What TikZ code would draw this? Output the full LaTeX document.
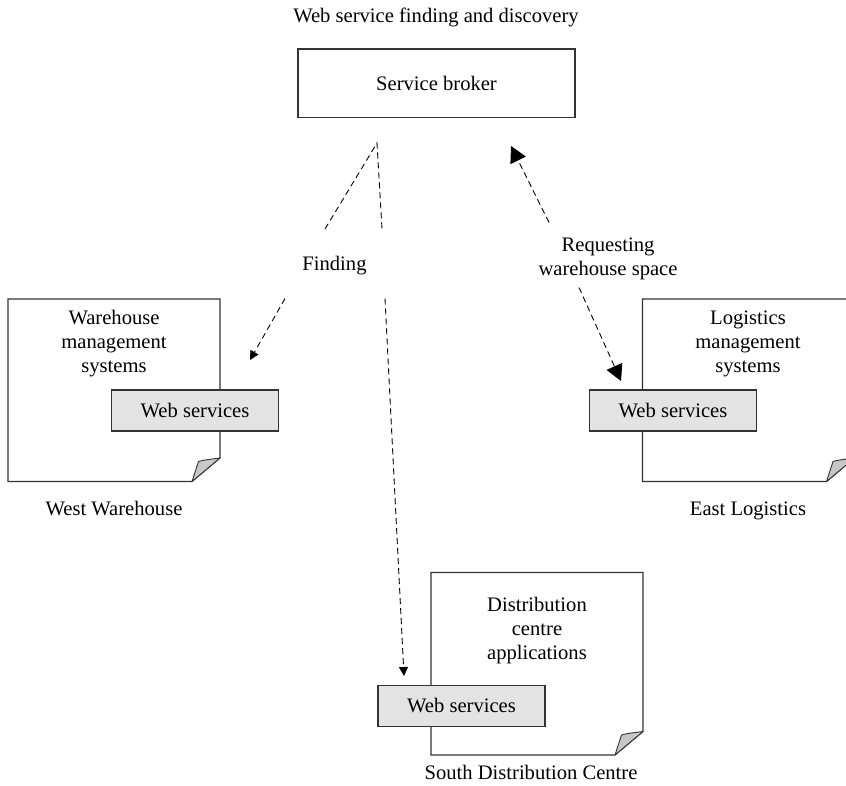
\documentclass[tikz,border=0pt]{standalone}
\usepackage{fontspec}
\setmainfont{Liberation Serif}
\usetikzlibrary{arrows.meta}

\tikzset{
  lbl/.style={font=\fontsize{20.6}{24}\selectfont, align=center, inner sep=0pt},
  edge line/.style={draw=black!80, line width=1.1pt},
  page/.style={edge line, fill=white},
  wsbox/.style={edge line, fill=black!11, minimum width=167pt, minimum height=41pt, lbl},
  brokerbox/.style={edge line, minimum width=277pt, minimum height=68.5pt, lbl},
  curl/.style={draw=black!80, line width=0.9pt, fill=black!22, line join=round},
  flow/.style={dash pattern=on 6pt off 4pt, line width=0.9pt},
  small tip/.style={-{Triangle[length=9pt,width=9pt]}},
  big tip/.style={-{Triangle[length=16pt,width=17pt]}},
  % a sheet of paper with a turned-up lower right corner, origin at its top left
  docpage/.pic={
    \draw[page] (0,0) -- (212,0) -- (212,159) -- (184,182.5) -- (0,182.5) -- cycle;
    \draw[curl] (184,182.5) -- (190.5,162.5)
      .. controls (197,160.5) and (205,160) .. (212,159) -- cycle;
  }
}

\begin{document}
\begin{tikzpicture}[x=1pt,y=-1pt]
\useasboundingbox (0,0) rectangle (846,785);
\clip (0,0) rectangle (846,785);
\fill[white] (0,0) rectangle (846,785);

% title and broker
\node[lbl] (title) at (436,17) {Web service finding and discovery};
\node[brokerbox] (broker) at (436.5,83.25) {Service broker};

% the three sites
\pic at (8,299) {docpage};
\pic at (642.5,299) {docpage};
\pic at (431,572.5) {docpage};

\node[wsbox] (wsWest) at (195,410.5) {Web services};
\node[wsbox] (wsEast) at (673,410.5) {Web services};
\node[wsbox] (wsSouth) at (461.5,705.75) {Web services};

\node[lbl] (sysWest) at (114,344) {Warehouse\\management\\systems};
\node[lbl] (sysEast) at (748,344) {Logistics\\management\\systems};
\node[lbl] (sysSouth) at (537,631) {Distribution\\centre\\applications};

\node[lbl, anchor=base] (nameWest) at (114,515) {West Warehouse};
\node[lbl, anchor=base] (nameEast) at (748,515) {East Logistics};
\node[lbl, anchor=base] (nameSouth) at (531,779) {South Distribution Centre};

% message labels
\node[lbl, anchor=base] (finding) at (334.5,270) {Finding};
\node[lbl] (request) at (608,258.5) {Requesting\\warehouse space};

% finding: broker to west warehouse and south distribution
\coordinate (apex) at (377,143);
\coordinate (fL1) at (325,229);
\coordinate (fR1) at (382,229);
\coordinate (fL2) at (285,298.5);
\coordinate (fLtip) at (250,360);
\coordinate (fR2) at (385,298.5);
\coordinate (fRtip) at (404,676);
\draw[flow] (fL1) -- (apex) -- (fR1);
\draw[flow, small tip] (fL2) -- (fLtip);
\draw[flow, small tip] (fR2) -- (fRtip);

% requesting warehouse space: east logistics and broker
\coordinate (rT1) at (549,222.5);
\coordinate (rTtip) at (511,146);
\coordinate (rB1) at (579,287.5);
\coordinate (rBtip) at (621,381);
\draw[flow, big tip] (rT1) -- (rTtip);
\draw[flow, big tip] (rB1) -- (rBtip);
\end{tikzpicture}
\end{document}
